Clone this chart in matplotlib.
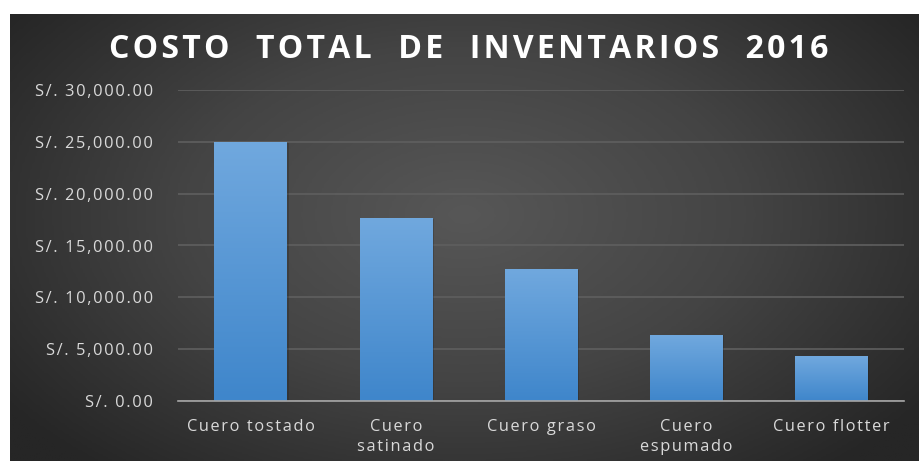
import matplotlib.pyplot as plt
import numpy as np
from matplotlib.colors import LinearSegmentedColormap

# datos
categorias = ["Cuero tostado", "Cuero\nsatinado", "Cuero graso", "Cuero\nespumado", "Cuero flotter"]
costos = [24900, 17600, 12650, 6350, 4250]
ticks_y = [0, 5000, 10000, 15000, 20000, 25000, 30000]
titulo = "COSTO  TOTAL  DE  INVENTARIOS  2016"

plt.rcParams['font.family'] = ['Open Sans', 'DejaVu Sans']

HAIR = '\u200a'


def espaciado(texto, sep=HAIR):
    # separa las letras (como el espaciado de Excel)
    lineas = texto.split('\n')
    return '\n'.join(sep.join(list(l)) for l in lineas)


fig = plt.figure(figsize=(9.19, 4.61), dpi=100)
fig.patch.set_facecolor('white')

# fondo oscuro con degradado radial
bg = fig.add_axes([10/919, 0, 909/919, 447/461])
bg.set_axis_off()
yy, xx = np.mgrid[0:1:200j, 0:1:400j]
r = np.sqrt(((xx - 0.5) / 0.62)**2 + ((yy - 0.45) / 0.75)**2)
cmap_bg = LinearSegmentedColormap.from_list('bg', ['#575757', '#444444', '#262626'])
bg.imshow(np.clip(r, 0, 1), cmap=cmap_bg, aspect='auto', extent=[0, 1, 0, 1], vmin=0, vmax=1)
bg.set_xlim(0, 1)
bg.set_ylim(0, 1)

ax = fig.add_axes([178/919, 60/461, 726/919, 311/461])
ax.patch.set_alpha(0)
x = np.arange(len(categorias))
barras = ax.bar(x, costos, width=0.5, color='#5b9bd5', zorder=2)

# degradado en cada barra
cmap_bar = LinearSegmentedColormap.from_list('bar', ['#3f86cb', '#70a8de'])
grad = np.linspace(0, 1, 100).reshape(-1, 1)
for b in barras:
    x0, w, h = b.get_x(), b.get_width(), b.get_height()
    b.set_visible(False)
    ax.bar(x0 + w / 2 + 0.012, h, width=w, color='#1e1e1e', alpha=0.25, zorder=1.5)
    ax.imshow(grad, cmap=cmap_bar, aspect='auto', origin='lower',
              extent=[x0, x0 + w, 0, h], zorder=2)

ax.set_xlim(-0.5, len(categorias) - 0.5)
ax.set_ylim(0, 30000)
ax.set_yticks(ticks_y)
ax.set_yticklabels([espaciado("S/. {:,.2f}".format(v)) for v in ticks_y])
ax.set_xticks(x)
ax.set_xticklabels([espaciado(c) for c in categorias])
ax.tick_params(length=0, colors='#d9d9d9', labelsize=11.8)
ax.tick_params(axis='y', pad=18)
ax.tick_params(axis='x', pad=13)
for lab in ax.get_xticklabels():
    lab.set_linespacing(1.3)
ax.grid(axis='y', color='#5f5f5f', linewidth=1.2, zorder=0)
ax.set_axisbelow(True)
for s in ['top', 'right', 'left']:
    ax.spines[s].set_visible(False)
ax.spines['bottom'].set_color('#a6a6a6')
ax.spines['bottom'].set_linewidth(1.2)
ax.spines['bottom'].set_zorder(3)

fig.text(469/919, 1 - 50/461, espaciado(titulo), ha='center', va='center',
         color='white', fontsize=23, fontweight='bold')

fig.savefig('out.png', dpi=100)
